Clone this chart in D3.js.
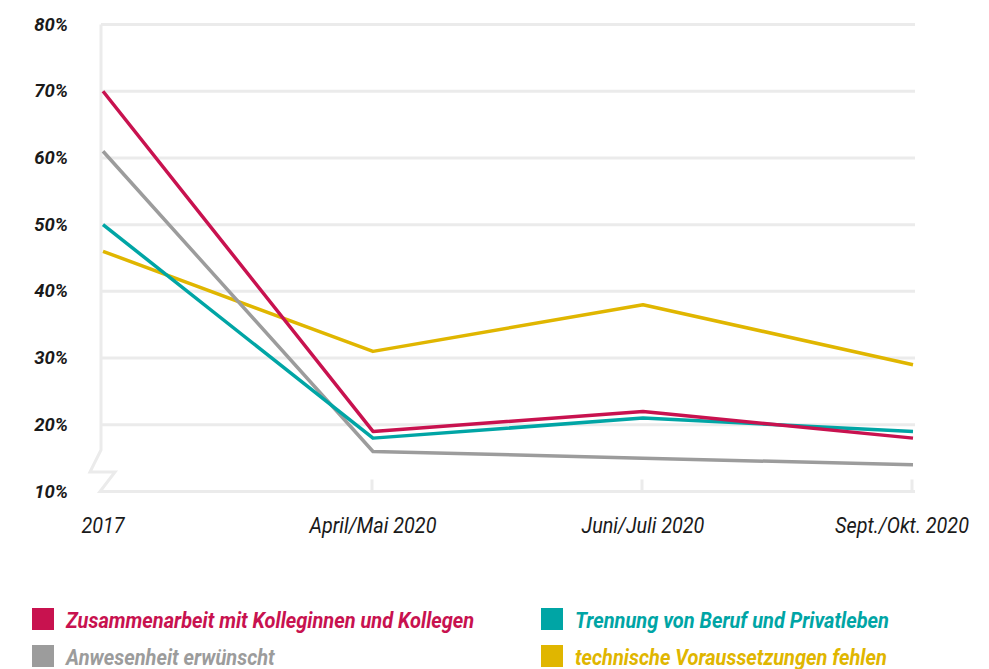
<!DOCTYPE html>
<html>
<head>
<meta charset="utf-8">
<script src="https://cdn.jsdelivr.net/npm/d3@7"></script>
<style>
  body { margin: 0; background: #fff; }
  text { font-family: Roboto, "Open Sans", sans-serif; font-style: italic; }
</style>
</head>
<body>
<script>
var periods = ["2017", "April/Mai 2020", "Juni/Juli 2020", "Sept./Okt. 2020"];
var yTicks = [10, 20, 30, 40, 50, 60, 70, 80];

var zusammenarbeit = [70, 19, 22, 18];
var anwesenheit = [61, 16, 15, 14];
var trennung = [50, 18, 21, 19];
var technik = [46, 31, 38, 29];

var seriesNames = ["Zusammenarbeit mit Kolleginnen und Kollegen", "Trennung von Beruf und Privatleben",
                   "Anwesenheit erwünscht", "technische Voraussetzungen fehlen"];
var seriesColors = ["#c8124f", "#00a5a5", "#9c9c9c", "#e0b600"];
var seriesValues = [zusammenarbeit, trennung, anwesenheit, technik];

var width = 989, height = 669;

var x = d3.scalePoint()
    .domain(periods)
    .range([103, 913]);

var y = d3.scaleLinear()
    .domain([10, 80])
    .range([491.5, 24.5]);

var svg = d3.select("body")
    .append("svg")
    .attr("width", width)
    .attr("height", height);

var grid = "#ebebeb";

// horizontal gridlines (not the baseline)
svg.selectAll(".grid")
    .data(yTicks.filter(function(d) { return d > 10; }))
    .enter()
    .append("line")
    .attr("x1", 101)
    .attr("x2", 915)
    .attr("y1", function(d) { return y(d); })
    .attr("y2", function(d) { return y(d); })
    .style("stroke", grid)
    .style("stroke-width", 3);

// left axis with break symbol
svg.append("path")
    .attr("d", "M101," + y(80) + " L101,450 L90,472 L115,472 L100," + y(10) + " L915," + y(10))
    .style("fill", "none")
    .style("stroke", grid)
    .style("stroke-width", 3);

// small ticks at the later periods
svg.selectAll(".tick")
    .data(periods.slice(1))
    .enter()
    .append("line")
    .attr("x1", function(d) { return x(d) - 1; })
    .attr("x2", function(d) { return x(d) - 1; })
    .attr("y1", y(10) - 12)
    .attr("y2", y(10))
    .style("stroke", grid)
    .style("stroke-width", 3);

// y labels
svg.selectAll(".ylab")
    .data(yTicks)
    .enter()
    .append("text")
    .attr("x", 68)
    .attr("y", function(d) { return y(d) + 6; })
    .attr("text-anchor", "end")
    .style("font-size", "18.5px")
    .style("font-weight", "bold")
    .style("fill", "#1a1a1a")
    .text(function(d) { return d + "%"; });

// x labels
svg.selectAll(".xlab")
    .data(periods)
    .enter()
    .append("text")
    .attr("x", function(d) { return x(d); })
    .attr("y", 533)
    .attr("text-anchor", "middle")
    .style("font-size", "22px")
    .style("fill", "#1a1a1a")
    .attr("transform", function(d) {
        var cx = x(d);
        if (d === "Sept./Okt. 2020") cx = 902;
        return "translate(" + cx + ",0) scale(0.9,1) translate(" + (-x(d)) + ",0)";
    })
    .text(function(d) { return d; });

// lines
var line = d3.line()
    .x(function(d, i) { return x(periods[i]); })
    .y(function(d) { return y(d); });

var order = [3, 2, 1, 0];
svg.selectAll(".series")
    .data(order)
    .enter()
    .append("path")
    .attr("d", function(k) { return line(seriesValues[k]); })
    .style("fill", "none")
    .style("stroke", function(k) { return seriesColors[k]; })
    .style("stroke-width", 3.5)
    .style("stroke-linejoin", "round");

// legend
var legend = svg.selectAll(".legend")
    .data(seriesNames)
    .enter()
    .append("g")
    .attr("transform", function(d, i) {
        var lx = (i % 2 === 0) ? 32 : 541;
        var ly = (i < 2) ? 608 : 645;
        return "translate(" + lx + "," + ly + ")";
    });

legend.append("rect")
    .attr("width", 22)
    .attr("height", 22)
    .style("fill", function(d, i) { return seriesColors[i]; });

legend.append("text")
    .attr("x", 34)
    .attr("y", 20)
    .attr("transform", "translate(34,0) scale(0.93,1) translate(-34,0)")
    .style("font-size", "21.5px")
    .style("font-weight", "bold")
    .style("fill", function(d, i) { return seriesColors[i]; })
    .text(function(d) { return d; });
</script>
</body>
</html>
